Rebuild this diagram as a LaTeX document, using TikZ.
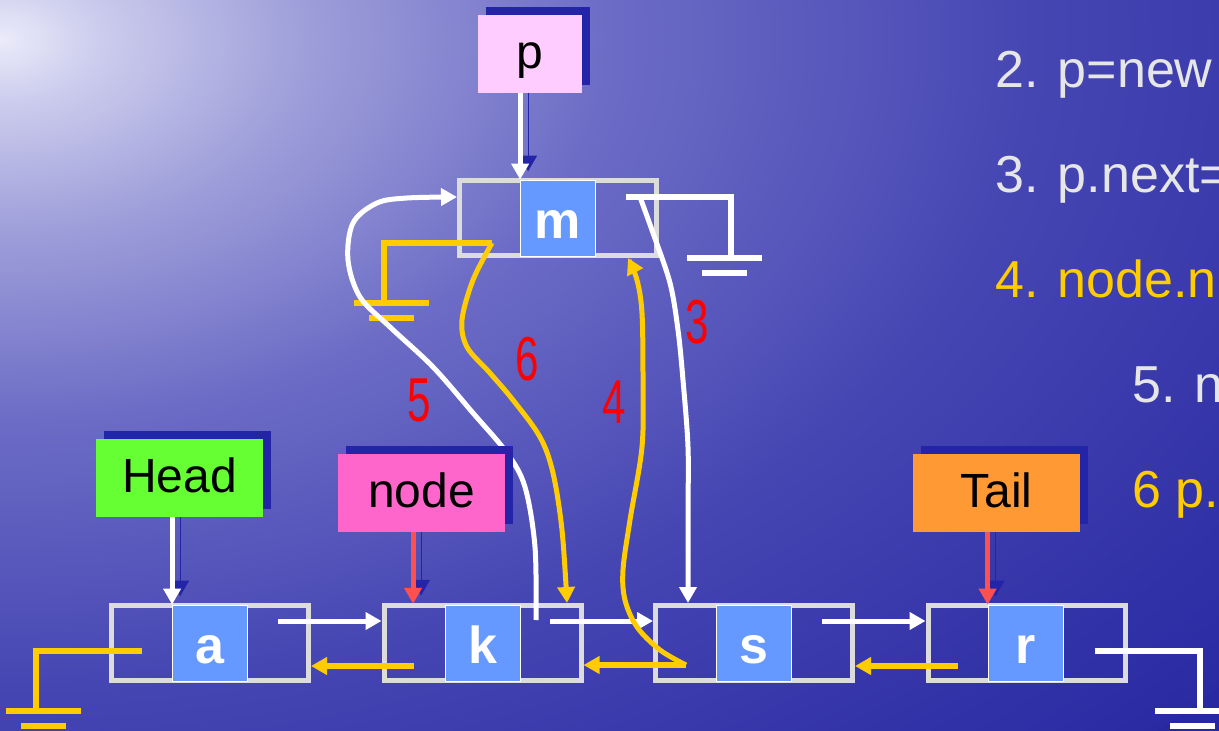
\documentclass[tikz,border=0pt]{standalone}
\usepackage{fontspec}
\setmainfont{Liberation Sans}
\usetikzlibrary{arrows.meta,calc,shadows}
\definecolor{bgbase}{RGB}{40,40,162}
\definecolor{bg0}{RGB}{235,235,250}
\definecolor{bg1}{RGB}{205,205,238}
\definecolor{bg2}{RGB}{158,158,218}
\definecolor{bg3}{RGB}{108,108,198}
\definecolor{bg4}{RGB}{68,68,178}
\definecolor{bg5}{RGB}{42,42,163}
\definecolor{gold}{RGB}{255,204,0}
\definecolor{boxgray}{RGB}{220,220,220}
\definecolor{cellblue}{RGB}{102,153,255}
\definecolor{shadowblue}{RGB}{36,36,168}
\definecolor{ptrred}{RGB}{255,80,80}
\definecolor{numred}{RGB}{255,0,0}
\definecolor{lpink}{RGB}{255,204,255}
\definecolor{lgreen}{RGB}{102,255,51}
\definecolor{lmagenta}{RGB}{255,102,204}
\definecolor{lorange}{RGB}{255,153,51}
\definecolor{txtgray}{RGB}{230,230,230}
\pgfdeclareradialshading{bgshade}{\pgfpoint{0bp}{0bp}}{color(0bp)=(bg0); color(1.5bp)=(bg1); color(4.8bp)=(bg2); color(9.5bp)=(bg3); color(16.5bp)=(bg4); color(25bp)=(bg5); color(50bp)=(bg5)}
\pgfdeclarelayer{background}
\pgfdeclarelayer{front}
\pgfsetlayers{background,main,front}
\begin{document}
\begin{tikzpicture}[x=1pt,y=-1pt,
  wl/.style={draw=white,line width=5pt},
  yl/.style={draw=gold,line width=5pt},
  arr/.style={-{Triangle[length=16pt,width=17pt]}},
  lab/.style={inner sep=0pt,minimum height=78pt,text height=34pt,text depth=6pt,
    font=\fontsize{48}{48}\selectfont,text=black,
    drop shadow={shadow xshift=8pt,shadow yshift=8pt,fill=shadowblue,opacity=1}},
  listbox/.style={draw=boxgray,line width=5pt,minimum width=197pt,minimum height=75pt,inner sep=0pt},
  cellbox/.style={fill=cellblue,draw=white,line width=0.8pt,minimum width=75pt,minimum height=76pt,
    inner sep=0pt,text height=40pt,text depth=0pt,text=white,font=\bfseries\fontsize{52}{52}\selectfont},
  num/.style={text=numred,font=\fontsize{62}{62}\selectfont,xscale=0.68,inner sep=0pt},
  rtxt/.style={anchor=base west,inner sep=0pt,font=\fontsize{52}{60}\selectfont},
  shadowarrow/.style={preaction={draw=shadowblue,transform canvas={shift={(8pt,8pt)}}}}
]
\useasboundingbox (0,0) rectangle (1219,731);
\begin{pgfonlayer}{background}
\begin{scope}
\clip (0,0) rectangle (1219,731);
\fill[bgbase] (0,0) rectangle (1219,731);
\shade[shading=bgshade] (0,40) ellipse [x radius=1600, y radius=1000];
\end{scope}
\end{pgfonlayer}

% list elements
\node[listbox] (m) at (558,218) {};
\node[cellbox] (m-c) at (558,218) {m};
\node[listbox] (a) at (210,643) {};
\node[cellbox] (a-c) at (210,643) {a};
\node[listbox] (k) at (482.5,643) {};
\node[cellbox] (k-c) at (482.5,643) {k};
\node[listbox] (s) at (754,643) {};
\node[cellbox] (s-c) at (754,643) {s};
\node[listbox] (r) at (1026.5,643) {};
\node[cellbox] (r-c) at (1025.5,643) {r};

% labels
\begin{pgfonlayer}{front}
\node[lab,fill=lpink,minimum width=104pt] (p) at (530,54) {p};
\node[lab,fill=lgreen,minimum width=167pt] (head) at (179.5,478) {Head};
\node[lab,fill=lmagenta,minimum width=167pt] (nodel) at (421.5,493) {node};
\node[lab,fill=lorange,minimum width=167pt] (tail) at (996.5,493) {Tail};
\end{pgfonlayer}

% pointer start points
\coordinate (a-n) at (278,621);
\coordinate (k-n) at (550,621);
\coordinate (s-n) at (822,621);
\coordinate (k-p) at (414,666);
\coordinate (s-p) at (686,665);
\coordinate (r-p) at (958,666);
\coordinate (a-g) at (142,651);
\coordinate (r-g) at (1095,651);
\coordinate (m-g) at (626,197);
\coordinate (m-pg) at (492,243);
\coordinate (k-q) at (536,620);
\coordinate (m-q) at (640,197);
\coordinate (k-t) at ($(k.north)+(84.5,0)$);
\coordinate (s-t) at ($(s.north)+(-66,0)$);
\coordinate (m-b) at ($(m.south)+(70,0)$);
\coordinate (m-w) at ($(m.west)+(0,-21)$);
\coordinate (k-l) at ($(k.north west)!0.5!(k-c.north west)$);

% label arrows
\draw[wl,arr,shadowarrow] (p.south -| m-c.west) -- (m-c.north west);
\draw[wl,arr,shadowarrow] (head.south -| a-c.west) -- (a-c.north west);
\draw[draw=ptrred,line width=5pt,arr,shadowarrow] (nodel.south -| k-l) -- (k-l);
\draw[draw=ptrred,line width=5pt,arr,shadowarrow] (tail.south -| r-c.west) -- (r-c.north west);

% next / prev pointers
\draw[wl,arr] (a-n) -- (a-n -| k.west);
\draw[wl,arr] (k-n) -- (k-n -| s.west);
\draw[wl,arr] (s-n) -- (s-n -| r.west);
\draw[yl,line width=6pt,arr] (k-p) -- (k-p -| a.east);
\draw[yl,line width=6pt,arr] (s-p) -- (s-p -| k.east);
\draw[yl,line width=6pt,arr] (r-p) -- (r-p -| s.east);

% grounds
\draw[yl,line width=6pt] (a-g) -- ++(-106,0) -- ++(0,60) ++(-30,0) -- ++(75,0) ++(-60,15) -- ++(45,0);
\draw[wl,line width=6pt] (r-g) -- ++(105,0) -- ++(0,60) ++(-45,0) -- ++(75,0) ++(-60,15) -- ++(45,0);
\draw[wl,line width=6pt] (m-g) -- ++(105,0) -- ++(0,61) ++(-44,0) -- ++(75,0) ++(-60,15) -- ++(45,0);
\draw[yl,line width=6pt] (m-pg) -- ++(-108,0) -- ++(0,60) ++(-30,0) -- ++(75,0) ++(-60,15) -- ++(45,0);

% curves
\draw[wl,arr] plot[smooth,tension=0.55] coordinates {(k-q) (535,547) (525,487) (507,453) (473,413) (433,367) (390,327) (360,297) (348,260) (353,223) (377,203) (407,198) (m-w)};
\draw[yl,arr] plot[smooth,tension=0.55] coordinates {(m-pg) (473,280) (462,320) (467,347) (490,373) (513,400) (540,437) (553,473) (562,530) (k-t)};
\draw[wl,arr] plot[smooth,tension=0.55] coordinates {(m-q) (653,233) (670,283) (678,330) (683,380) (688,447) (688,513) (s-t)};
\draw[yl,arr] plot[smooth,tension=0.55] coordinates {(s-p) (660,650) (637,627) (625,600) (623,570) (630,520) (642,447) (643,380) (642,313) (637,280) (m-b)};

% step numbers
\node[num] (n3) at (697,322) {3};
\node[num] (n4) at (614,402) {4};
\node[num] (n5) at (419,400) {5};
\node[num] (n6) at (527,359) {6};

% right text
\node[rtxt,text=txtgray] (t2) at (995,87) {2. p=new};
\node[rtxt,text=txtgray] (t3) at (995,192) {3. p.next=};
\node[rtxt,text=gold] (t4) at (995,297) {4. node.n};
\node[rtxt,text=txtgray] (t5) at (1132,402) {5. n};
\node[rtxt,text=gold] (t6) at (1132,507) {6 p.};
\end{tikzpicture}
\end{document}
